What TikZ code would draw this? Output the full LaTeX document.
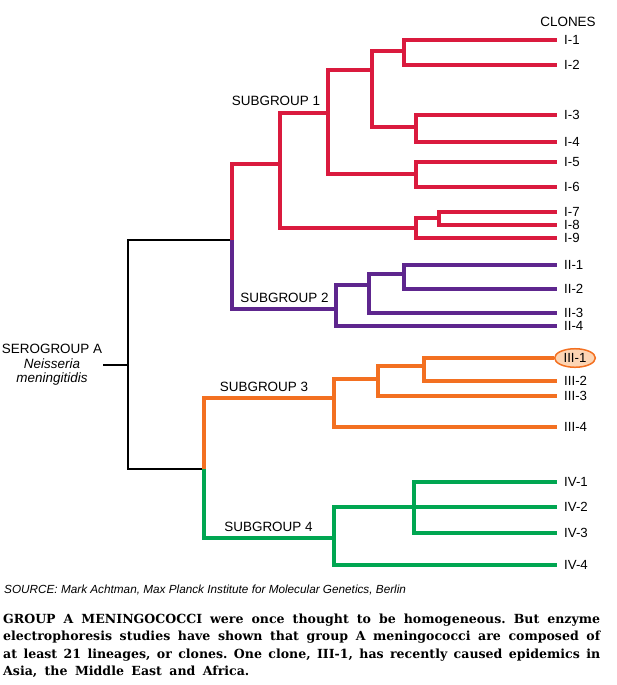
\documentclass[tikz,border=0pt]{standalone}
\usepackage{fontspec}
\usepackage{xcolor}
\setmainfont{Liberation Sans}
\newfontfamily\captionserif[WordSpace=1.7]{DejaVu Serif}
\usepackage{tikz}
\usetikzlibrary{shapes.geometric}

\definecolor{subred}{RGB}{218,26,62}
\definecolor{subpurple}{RGB}{94,38,142}
\definecolor{suborange}{RGB}{243,112,33}
\definecolor{subgreen}{RGB}{0,166,81}
\definecolor{subpeach}{RGB}{252,213,180}

\begin{document}
\begin{tikzpicture}[x=1bp, y=-1bp,
    branch/.style={line width=4.6bp},
    trunk/.style={line width=2.8bp, black},
    clone/.style={anchor=west, inner xsep=7bp, inner ysep=1bp, font=\fontsize{13.3}{15}\selectfont},
    sublabel/.style={font=\fontsize{13.5}{15}\selectfont, inner sep=0pt}]
    \useasboundingbox (0,0) rectangle (617,685);

    \node [sublabel] (clones) at (568,22) {CLONES};

    \node [clone] (I-1) at (557,40) {I-1};
    \node [clone] (I-2) at (557,65) {I-2};
    \node [clone] (I-3) at (557,115) {I-3};
    \node [clone] (I-4) at (557,142) {I-4};
    \node [clone] (I-5) at (557,162) {I-5};
    \node [clone] (I-6) at (557,187) {I-6};
    \node [clone] (I-7) at (557,212) {I-7};
    \node [clone] (I-8) at (557,225) {I-8};
    \node [clone] (I-9) at (557,238) {I-9};
    \node [clone] (II-1) at (557,265) {II-1};
    \node [clone] (II-2) at (557,289) {II-2};
    \node [clone] (II-3) at (557,313) {II-3};
    \node [clone] (II-4) at (557,326) {II-4};
    \node [ellipse, draw=suborange, line width=1.5bp, fill=subpeach, inner xsep=3bp, inner ysep=2bp,
        font=\fontsize{13.3}{15}\selectfont] (III-1) at (575,358) {III-1};
    \node [clone] (III-2) at (557,381) {III-2};
    \node [clone] (III-3) at (557,396) {III-3};
    \node [clone] (III-4) at (557,427) {III-4};
    \node [clone] (IV-1) at (557,482) {IV-1};
    \node [clone] (IV-2) at (557,507) {IV-2};
    \node [clone] (IV-3) at (557,533) {IV-3};
    \node [clone] (IV-4) at (557,565) {IV-4};

    \node [align=center, inner sep=1bp, font=\fontsize{13.5}{14.5}\selectfont] (sero) at (52,365)
        {SEROGROUP A\\\textit{Neisseria}\\\textit{meningitidis}};

    \coordinate (root) at (128,365);
    \coordinate (j12) at (232,240);
    \coordinate (j34) at (204,469);

    \coordinate (sg1) at (280,164);
    \coordinate (a16) at (328,113);
    \coordinate (a14) at (372,70);
    \coordinate (a12) at (404,51);
    \coordinate (a34) at (416,127);
    \coordinate (a56) at (416,174);
    \coordinate (a79) at (416,228);
    \coordinate (a78) at (439,218);

    \coordinate (sg2) at (336,309);
    \coordinate (b13) at (369,285);
    \coordinate (b12) at (404,274);

    \coordinate (sg3) at (334,398);
    \coordinate (c13) at (378,379);
    \coordinate (c12) at (424,366);

    \coordinate (sg4) at (334,538);
    \coordinate (d13) at (414,507);

    \draw [trunk] (sero) -- (root);
    \draw [trunk] (root) |- (j12);
    \draw [trunk] (root) |- (j34);

    \draw [branch, subred] (j12) |- (sg1);
    \draw [branch, subred] (sg1) |- (a16);
    \draw [branch, subred] (sg1) |- (a79);
    \draw [branch, subred] (a16) |- (a14);
    \draw [branch, subred] (a16) |- (a56);
    \draw [branch, subred] (a14) |- (a12);
    \draw [branch, subred] (a14) |- (a34);
    \draw [branch, subred] (a12) |- (I-1);
    \draw [branch, subred] (a12) |- (I-2);
    \draw [branch, subred] (a34) |- (I-3);
    \draw [branch, subred] (a34) |- (I-4);
    \draw [branch, subred] (a56) |- (I-5);
    \draw [branch, subred] (a56) |- (I-6);
    \draw [branch, subred] (a79) |- (a78);
    \draw [branch, subred] (a79) |- (I-9);
    \draw [branch, subred] (a78) |- (I-7);
    \draw [branch, subred] (a78) |- (I-8);

    \draw [branch, subpurple] (j12) |- (sg2);
    \draw [branch, subpurple] (sg2) |- (b13);
    \draw [branch, subpurple] (sg2) |- (II-4);
    \draw [branch, subpurple] (b13) |- (b12);
    \draw [branch, subpurple] (b13) |- (II-3);
    \draw [branch, subpurple] (b12) |- (II-1);
    \draw [branch, subpurple] (b12) |- (II-2);

    \draw [branch, suborange] (j34) |- (sg3);
    \draw [branch, suborange] (sg3) |- (c13);
    \draw [branch, suborange] (sg3) |- (III-4);
    \draw [branch, suborange] (c13) |- (c12);
    \draw [branch, suborange] (c13) |- (III-3);
    \draw [branch, suborange] (c12) |- (III-1);
    \draw [branch, suborange] (c12) |- (III-2);

    \draw [branch, subgreen] (j34) |- (sg4);
    \draw [branch, subgreen] (sg4) |- (IV-2);
    \draw [branch, subgreen] (sg4) |- (IV-4);
    \draw [branch, subgreen] (d13) |- (IV-1);
    \draw [branch, subgreen] (d13) |- (IV-3);

    \node [sublabel] (sglab1) at (276,101) {SUBGROUP 1};
    \node [sublabel] (sglab2) at (284.5,298) {SUBGROUP 2};
    \node [sublabel] (sglab3) at (264,387) {SUBGROUP 3};
    \node [sublabel] (sglab4) at (268.5,527) {SUBGROUP 4};

    \node [anchor=west, inner sep=0pt, font=\fontsize{11.8}{13}\selectfont\itshape] (source) at (4,590)
        {SOURCE: Mark Achtman, Max Planck Institute for Molecular Genetics, Berlin};

    \node [anchor=north west, inner sep=0pt, text width=597bp, align=justify,
        font=\captionserif\bfseries\fontsize{12.6}{17.3}\selectfont\frenchspacing] (caption) at (3,614)
        {GROUP A MENINGOCOCCI were once thought to be homogeneous. But enzyme\linebreak
        electrophoresis studies have shown that group A meningococci are composed of\linebreak
        at least 21 lineages, or clones. One clone, III-1, has recently caused epidemics in\linebreak
        Asia, the Middle East and Africa.};
\end{tikzpicture}
\end{document}
